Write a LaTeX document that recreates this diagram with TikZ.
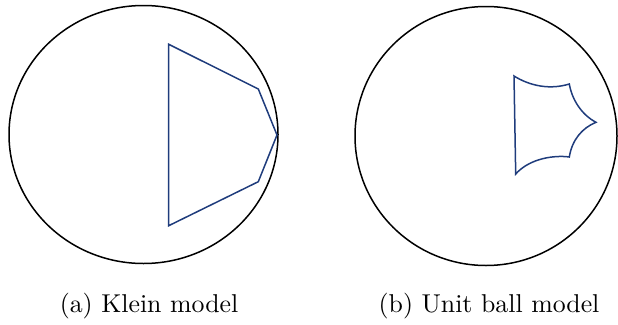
\documentclass[tikz,border=0pt]{standalone}
\definecolor{poly}{HTML}{1F3C7C}
\begin{document}
\begin{tikzpicture}[x=1pt,y=-1pt,
  rim/.style={draw=black,line width=1.5pt},
  face/.style={draw=poly,line width=1.5pt,line join=miter},
  caption/.style={anchor=base,scale=2.58,inner sep=0pt}]
\useasboundingbox (0,0) rectangle (618,324);
% (a) Klein model
\draw[rim] (143.5,134.5) ellipse [x radius=134.5, y radius=129];
\draw[face] (168.7,44.3) -- (258.3,89) -- (277,135) -- (258.3,181.7) -- (168.7,225.7) -- cycle;
\node[caption] (capa) at (149,312) {(a) Klein model};
% (b) Unit ball model
\draw[rim] (486,136) ellipse [x radius=131, y radius=129.5];
\draw[face] (514,76) .. controls (530,86) and (550,90) .. (569.3,84)
  .. controls (572,100) and (582,115) .. (596,122.3)
  .. controls (582,128) and (572,140) .. (569.3,157)
  .. controls (555,155) and (530,158) .. (515.7,174) -- cycle;
\node[caption] (capb) at (489,312) {(b) Unit ball model};
\end{tikzpicture}
\end{document}
